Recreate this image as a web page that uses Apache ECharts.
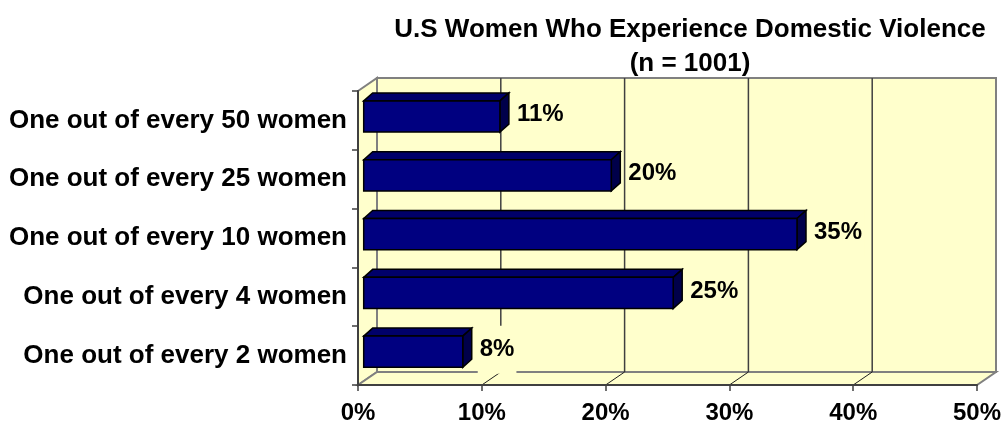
<!DOCTYPE html>
<html>
<head>
<meta charset="utf-8">
<script src="https://cdn.jsdelivr.net/npm/echarts@6/dist/echarts.min.js"></script>
<style>
  html, body { margin: 0; padding: 0; background: #fff; }
  #chart { width: 1005px; height: 426px; }
</style>
</head>
<body>
<div id="chart"></div>
<script>
// data
const categories = [
  'One out of every 50 women',
  'One out of every 25 women',
  'One out of every 10 women',
  'One out of every 4 women',
  'One out of every 2 women'
];
const shares = [11, 20, 35, 25, 8];
const xTicks = [0, 10, 20, 30, 40, 50];

// fake 3d look (Excel style)
const WALL_DX = 19, WALL_DY = -13;
const BAR_DX = 9, BAR_DY = -8;
const BAR_DEPTH_POS = 0.3;
const FONT = "'Liberation Sans', Arial, sans-serif";
const WALL = '#FFFFCC';
const EDGE = '#808080';

function renderFrame(params, api) {
  const cs = params.coordSys;
  const l = cs.x, t = cs.y, r = cs.x + cs.width, b = cs.y + cs.height;
  const kids = [
    { type: 'polygon', shape: { points: [[l, t], [l + WALL_DX, t + WALL_DY], [l + WALL_DX, b + WALL_DY], [l, b]] },
      style: { fill: WALL, stroke: EDGE, lineWidth: 2 } },
    { type: 'polygon', shape: { points: [[l, b], [l + WALL_DX, b + WALL_DY], [r + WALL_DX, b + WALL_DY], [r, b]] },
      style: { fill: WALL, stroke: EDGE, lineWidth: 2 } },
    { type: 'rect', shape: { x: l + WALL_DX, y: t + WALL_DY, width: cs.width, height: cs.height },
      style: { fill: WALL, stroke: EDGE, lineWidth: 2 } }
  ];
  xTicks.slice(1, -1).forEach(function (v) {
    const px = api.coord([v, 0])[0];
    kids.push({ type: 'line', shape: { x1: px + WALL_DX, y1: t + WALL_DY, x2: px + WALL_DX, y2: b + WALL_DY },
      style: { stroke: '#404040', lineWidth: 1.5 } });
    kids.push({ type: 'line', shape: { x1: px, y1: b, x2: px + WALL_DX, y2: b + WALL_DY },
      style: { stroke: '#202020', lineWidth: 1 } });
  });
  return { type: 'group', children: kids };
}

function renderBar(params, api) {
  const v = api.value(0), c = api.value(1);
  const p0 = api.coord([0, c]);
  const p1 = api.coord([v, c]);
  const h = api.size([0, 1])[1] * 0.53;
  const x0 = p0[0] + WALL_DX * BAR_DEPTH_POS;
  const x1 = p1[0] + WALL_DX * BAR_DEPTH_POS;
  const yc = p0[1] + WALL_DY * BAR_DEPTH_POS;
  const y0 = yc - h / 2, y1 = yc + h / 2;
  const edge = { stroke: '#000', lineWidth: 1.5 };
  return {
    type: 'group',
    children: [
      { type: 'polygon', shape: { points: [[x0, y0], [x0 + BAR_DX, y0 + BAR_DY], [x1 + BAR_DX, y0 + BAR_DY], [x1, y0]] },
        style: Object.assign({ fill: '#00006A' }, edge) },
      { type: 'polygon', shape: { points: [[x1, y0], [x1 + BAR_DX, y0 + BAR_DY], [x1 + BAR_DX, y1 + BAR_DY], [x1, y1]] },
        style: Object.assign({ fill: '#00004A' }, edge) },
      { type: 'rect', shape: { x: x0, y: y0, width: x1 - x0, height: h },
        style: Object.assign({ fill: '#000080' }, edge) },
      { type: 'text', x: x1 + BAR_DX + 6, y: yc - 2,
        style: { text: v + '%', font: 'bold 24px ' + FONT, fill: '#000',
          align: 'left', verticalAlign: 'middle',
          backgroundColor: WALL, padding: [12, 2, 12, 2] } }
    ]
  };
}

const chart = echarts.init(document.getElementById('chart'));
chart.setOption({
  animation: false,
  backgroundColor: '#fff',
  title: {
    text: 'U.S Women Who Experience Domestic Violence\n(n = 1001)',
    left: 685, top: 8, textAlign: 'center',
    textStyle: { fontFamily: FONT, fontWeight: 'bold', fontSize: 26, lineHeight: 34, color: '#000' }
  },
  grid: { left: 358, right: 28, top: 91, bottom: 41 },
  xAxis: {
    type: 'value', min: 0, max: 50, interval: 10, z: 5,
    axisLine: { show: true, lineStyle: { color: '#404040', width: 2 } },
    axisTick: { show: true, length: 6, lineStyle: { color: '#404040', width: 1.5 } },
    splitLine: { show: false },
    axisLabel: { formatter: '{value}%', margin: 16, color: '#000',
      fontFamily: FONT, fontWeight: 'bold', fontSize: 24 }
  },
  yAxis: {
    type: 'category', data: categories, inverse: true, z: 5,
    axisLine: { show: true, lineStyle: { color: '#404040', width: 2 } },
    axisTick: { show: true, length: 6, lineStyle: { color: '#404040', width: 1.5 } },
    splitLine: { show: false },
    axisLabel: { margin: 11, color: '#000', fontFamily: FONT, fontWeight: 'bold', fontSize: 26 }
  },
  series: [
    { type: 'custom', silent: true, renderItem: renderFrame, data: [[0, 0]], z: 1 },
    { type: 'custom', silent: true, renderItem: renderBar, z: 2,
      encode: { x: 0, y: 1 },
      data: shares.map(function (v, i) { return [v, i]; }) }
  ]
});
</script>
</body>
</html>
